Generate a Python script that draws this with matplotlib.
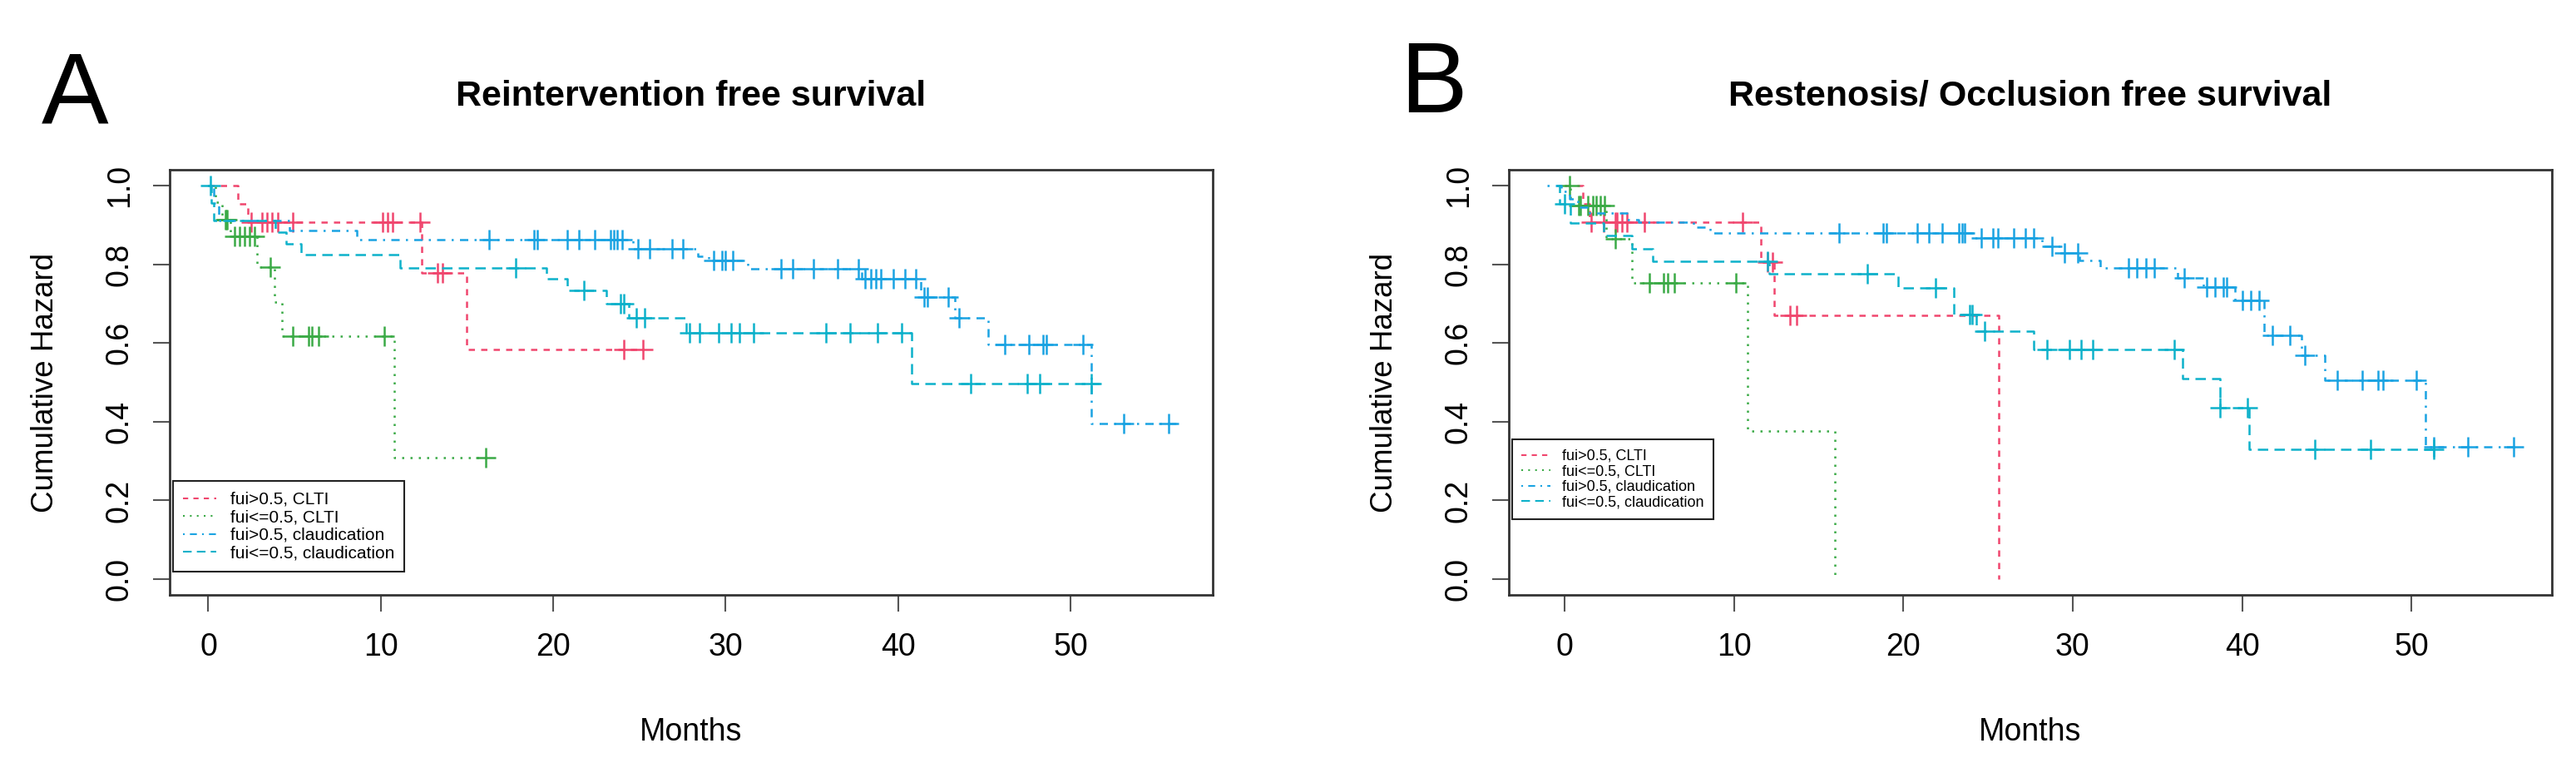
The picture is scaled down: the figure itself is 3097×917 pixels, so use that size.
import numpy as np
import matplotlib
matplotlib.use('Agg')
import matplotlib.pyplot as plt
from matplotlib.lines import Line2D

plt.rcParams['font.family'] = ['Liberation Sans', 'DejaVu Sans']

group_labels = ['fui>0.5, CLTI', 'fui<=0.5, CLTI', 'fui>0.5, claudication', 'fui<=0.5, claudication']
colors = ['#F0466E', '#3BAA46', '#1AA3E2', '#0DB1CA']
dashes = [(3, 3), (1, 3), (1, 3, 4, 3), (5, 3)]

x_ticks = [0, 10, 20, 30, 40, 50]
y_ticks = [0.0, 0.2, 0.4, 0.6, 0.8, 1.0]

# ---- panel A: reintervention free survival
a_pink_t = [0, 1.7, 2.3, 12.35, 15.0]
a_pink_s = [1.0, 0.953, 0.907, 0.777, 0.583]
a_pink_end = 25.2
a_pink_cens = [2.5, 3.1, 3.4, 3.7, 4.05, 4.9, 10.1, 10.4, 10.7, 12.3, 13.3, 13.6, 24.1, 25.2]

a_green_t = [0, 0.4, 0.8, 1.3, 2.8, 3.85, 4.25, 10.8]
a_green_s = [1.0, 0.957, 0.913, 0.87, 0.793, 0.705, 0.617, 0.308]
a_green_end = 16.3
a_green_cens = [1.0, 1.05, 1.1, 1.5, 1.8, 2.1, 2.4, 2.7, 3.6, 4.9, 5.8, 6.0, 6.4, 10.2, 16.1]

a_blue_t = [0, 0.3, 0.6, 4.7, 8.6, 24.6, 28.4, 29.0, 31.3, 37.9, 41.3, 43.3, 45.2, 51.2]
a_blue_s = [1.0, 0.955, 0.911, 0.886, 0.862, 0.84, 0.82, 0.809, 0.788, 0.763, 0.717, 0.663, 0.597, 0.396]
a_blue_end = 56.2
a_blue_cens = [16.3, 18.9, 19.1, 20.8, 21.5, 22.4, 23.3, 23.5, 23.7, 24.0, 24.9, 25.6, 26.9, 27.5,
               29.3, 29.8, 30.0, 30.4, 33.2, 33.9, 35.1, 36.5, 37.7, 38.1, 38.4, 38.7, 39.0, 39.7,
               40.4, 41.0, 41.5, 41.7, 42.9, 43.55, 46.2, 47.6, 48.4, 48.6, 50.7, 53.1, 55.7]

a_teal_t = [0, 0.15, 0.3, 3.9, 4.5, 5.4, 11.1, 19.6, 20.8, 23.1, 24.4, 27.7, 40.8]
a_teal_s = [1.0, 0.956, 0.912, 0.882, 0.852, 0.824, 0.791, 0.763, 0.733, 0.70, 0.663, 0.625, 0.496]
a_teal_end = 51.7
a_teal_cens = [0.1, 17.8, 21.8, 23.9, 24.1, 24.8, 25.3, 27.9, 28.5, 29.6, 30.3, 30.8, 31.6,
               35.8, 37.2, 38.8, 40.2, 44.2, 47.5, 48.2, 51.2]

# ---- panel B: restenosis / occlusion free survival
b_pink_t = [0, 1.1, 1.5, 11.6, 12.4, 25.64]
b_pink_s = [1.0, 0.953, 0.906, 0.805, 0.67, 0.0]
b_pink_end = 25.64
b_pink_cens = [1.6, 2.3, 3.0, 3.1, 3.4, 3.7, 4.7, 10.5, 12.0, 12.3, 13.3, 13.7]

b_green_t = [0, 0.35, 2.45, 4.0, 10.8, 15.96]
b_green_s = [1.0, 0.95, 0.864, 0.753, 0.377, 0.0]
b_green_end = 15.96
b_green_cens = [0.28, 0.85, 0.96, 1.37, 1.67, 1.86, 2.1, 2.35, 3.0, 5.0, 5.85, 6.1, 6.5, 10.1]

b_blue_t = [-1.0, -0.2, 0.3, 0.8, 1.5, 3.7, 4.4, 7.6, 8.6, 24.1, 28.2, 29.2, 30.4, 31.6,
            36.2, 37.7, 39.6, 41.3, 43.5, 44.9, 50.8]
b_blue_s = [1.0, 0.986, 0.965, 0.945, 0.93, 0.914, 0.906, 0.895, 0.879, 0.866, 0.846, 0.828,
            0.81, 0.79, 0.766, 0.741, 0.708, 0.62, 0.569, 0.505, 0.337]
b_blue_end = 56.1
b_blue_cens = [16.2, 18.8, 19.0, 20.8, 21.5, 22.3, 23.3, 23.45, 23.6, 24.6, 25.3, 25.6, 26.5,
               27.2, 27.7, 28.8, 29.5, 30.3, 33.3, 33.8, 34.3, 34.8, 36.6, 37.9, 38.4, 38.9,
               39.1, 40.0, 40.5, 41.0, 41.8, 42.8, 43.7, 45.6, 47.1, 48.0, 48.3, 50.3, 51.3,
               53.3, 56.0]

b_teal_t = [-0.5, -0.3, 0.35, 2.3, 4.0, 5.2, 12.1, 19.7, 23.0, 24.3, 27.7, 36.5, 38.7, 40.4]
b_teal_s = [1.0, 0.953, 0.905, 0.873, 0.84, 0.808, 0.775, 0.74, 0.672, 0.629, 0.584, 0.51,
            0.436, 0.33]
b_teal_end = 51.5
b_teal_cens = [0.0, 12.0, 17.9, 21.9, 23.9, 24.05, 24.8, 28.5, 29.8, 30.5, 31.2, 36.0, 38.7,
               40.3, 44.3, 47.6, 51.3]


def draw_km(ax, t, s, end, cens, color, dash):
    tt = list(t) + [end]
    ss = list(s) + [s[-1]]
    ax.step(tt, ss, where='post', color=color, lw=1.8, dashes=dash)
    # censor marks sit on the curve at the censoring time
    idx = np.searchsorted(t, cens, side='right') - 1
    cy = np.array(s)[idx]
    ax.plot(cens, cy, ls='none', marker='+', ms=17, mew=1.8, color=color)


fig = plt.figure(figsize=(30.97, 9.17), dpi=100)

panels = [
    dict(letter='A', title='Reintervention free survival', left=204, xlim=(-2.24, 58.24),
         letter_xy=(90, 117), leg_font=15, leg_y=0.055, leg_ls=0.12, leg_bp=0.6,
         curves=[(a_pink_t, a_pink_s, a_pink_end, a_pink_cens),
                 (a_green_t, a_green_s, a_green_end, a_green_cens),
                 (a_blue_t, a_blue_s, a_blue_end, a_blue_cens),
                 (a_teal_t, a_teal_s, a_teal_end, a_teal_cens)]),
    dict(letter='B', title='Restenosis/ Occlusion free survival', left=1814, xlim=(-3.28, 58.28),
         letter_xy=(1723, 104), leg_font=13, leg_y=0.178, leg_ls=0.08, leg_bp=0.65,
         curves=[(b_pink_t, b_pink_s, b_pink_end, b_pink_cens),
                 (b_green_t, b_green_s, b_green_end, b_green_cens),
                 (b_blue_t, b_blue_s, b_blue_end, b_blue_cens),
                 (b_teal_t, b_teal_s, b_teal_end, b_teal_cens)]),
]

W, H = 3097, 917
for p in panels:
    ax = fig.add_axes([p['left'] / W, (H - 715) / H, 1254 / W, 511 / H])
    for (t, s, end, cens), c, d in zip(p['curves'], colors, dashes):
        draw_km(ax, t, s, end, cens, c, d)

    ax.set_xlim(*p['xlim'])
    ax.set_ylim(-0.04, 1.04)
    ax.set_xticks(x_ticks)
    ax.set_yticks(y_ticks)
    ax.set_yticklabels([f'{v:.1f}' for v in y_ticks], rotation=90, va='center')
    ax.tick_params(axis='both', labelsize=27, length=14.4, width=1.5, color='#555555')
    ax.tick_params(axis='x', pad=18)
    ax.tick_params(axis='y', pad=16)
    for sp in ax.spines.values():
        sp.set_linewidth(2)
        sp.set_color('#333333')

    ax.set_xlabel('Months', fontsize=27)
    ax.xaxis.set_label_coords(0.5, -0.323)
    ax.xaxis.label.set_va('center')
    ax.set_ylabel('Cumulative Hazard', fontsize=26.5)
    ax.yaxis.set_label_coords(-0.119, 0.5)
    ax.yaxis.label.set_va('center')

    ax.text(0.5, 1.172, p['title'], transform=ax.transAxes, ha='center', va='center',
            fontsize=31, fontweight='bold')
    fig.text(p['letter_xy'][0] / W, 1 - p['letter_xy'][1] / H, p['letter'],
             fontsize=87, ha='center', va='center')

    handles = [Line2D([], [], color=c, lw=1.5, dashes=d) for c, d in zip(colors, dashes)]
    leg = ax.legend(handles, group_labels, loc='lower left', bbox_to_anchor=(0.003, p['leg_y']),
                    borderaxespad=0, fontsize=p['leg_font'], handlelength=1.9,
                    handletextpad=0.8, labelspacing=p['leg_ls'], borderpad=p['leg_bp'],
                    fancybox=False, framealpha=1, edgecolor='#222222')
    leg.get_frame().set_linewidth(1.5)

fig.savefig('out.png', dpi=100)
